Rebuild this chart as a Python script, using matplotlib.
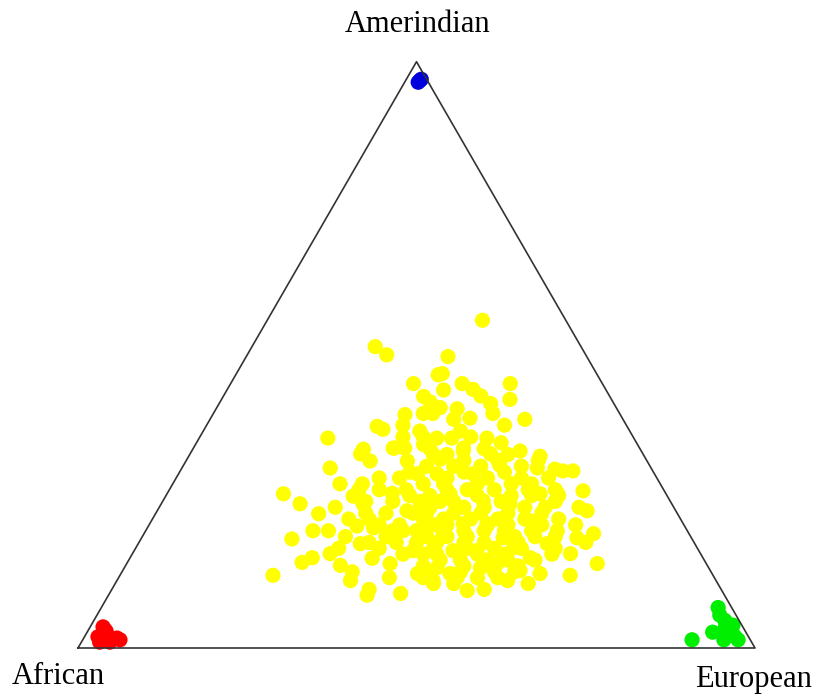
import numpy as np
import matplotlib.pyplot as plt

# ancestry proportions in percent: (amerindian, european); african = 100 - both
admixed = [
    (55.9, 31.8), (51.4, 18.2), (50.0, 20.6), (49.7, 29.8), (45.1, 27.0), (46.6, 29.9),
    (42.9, 29.6), (39.8, 28.4), (40.0, 32.4), (37.8, 25.3), (37.3, 26.4), (35.8, 19.0),
    (33.9, 25.2), (34.1, 29.7), (34.7, 33.7), (46.8, 30.4), (45.1, 34.2), (44.1, 36.3),
    (45.1, 41.3), (42.4, 42.6), (40.8, 35.6), (41.7, 40.1), (40.0, 41.3), (39.2, 38.3),
    (39.0, 46.5), (35.8, 35.1), (34.1, 39.9), (35.8, 42.5), (33.6, 48.5), (32.7, 51.9),
    (33.1, 44.4), (26.3, 17.2), (24.6, 20.5), (22.9, 24.1), (20.0, 24.7), (18.6, 22.3),
    (12.4, 22.6), (14.6, 25.8), (15.4, 26.9), (16.1, 29.2), (14.1, 31.7), (11.5, 34.5),
    (9.0, 38.2), (15.3, 35.8), (14.4, 38.9), (9.3, 43.0), (17.8, 32.8), (20.8, 30.8),
    (20.5, 33.4), (20.0, 36.5), (26.4, 33.2), (30.7, 21.9), (28.0, 24.7), (33.1, 25.2),
    (31.9, 27.2), (34.1, 29.5), (25.9, 27.7), (24.6, 29.8), (12.7, 43.8), (11.5, 46.7),
    (16.6, 41.2), (23.4, 36.9), (21.2, 41.0), (29.7, 35.3), (31.9, 32.7), (23.4, 63.5),
    (26.8, 61.2), (19.5, 66.4), (14.4, 69.5), (12.4, 66.5), (9.8, 52.6), (11.5, 57.7),
    (14.4, 54.7), (15.4, 59.1), (26.3, 57.7), (26.3, 55.1), (30.7, 52.5), (30.2, 56.5),
    (33.6, 40.1), (29.7, 38.2), (29.7, 43.5), (26.3, 41.8), (25.1, 47.3), (24.6, 51.5),
    (21.7, 56.0), (20.0, 60.8), (18.8, 64.3), (19.5, 44.2), (21.2, 46.3), (21.2, 49.8),
    (18.8, 53.4), (16.6, 47.1), (16.6, 50.6), (13.7, 46.2), (12.7, 48.6), (13.7, 52.6),
    (17.1, 55.8), (17.8, 60.4), (16.1, 64.7), (12.7, 61.9), (13.2, 58.7), (35.8, 37.3),
    (34.1, 31.2), (32.2, 37.4), (31.2, 46.7), (30.5, 55.2), (30.2, 58.0),
    (27, 44), (27, 48), (26, 51), (25, 38), (25, 43), (24, 45), (24, 54), (23, 40),
    (23, 48), (23, 57), (22, 43), (22, 51), (22, 60), (21, 37), (21, 44), (21, 53),
    (20, 40), (20, 47), (20, 50), (20, 57), (19, 42), (19, 45), (19, 55), (19, 61),
    (18, 38), (18, 48), (18, 51), (17, 44), (17, 53), (17, 57), (16, 40), (16, 45),
    (16, 62), (15, 49), (15, 53), (15, 56), (14, 44), (14, 58), (13, 50), (13, 55),
    (12, 45), (12, 53), (11, 50), (11, 61), (28, 40), (28, 50), (29, 46), (27, 53),
    (26, 58), (24, 62), (21, 63), (18, 66), (23, 34), (22, 32), (19, 30), (17, 36),
    (26, 36), (29, 30), (31, 40), (32, 46), (31, 50), (34, 43), (33, 36), (36, 40),
    (37, 32), (38, 44), (36, 30), (41, 33), (43, 38), (42, 31), (28, 28), (27, 31),
    (24, 26), (22, 29), (20, 27), (17, 30), (18, 34), (13, 34), (12, 40), (10, 38),
    (33, 38), (33, 47), (32, 41), (32, 52), (31, 44), (31, 36), (30, 48), (30, 42),
    (30, 34), (29, 51), (29, 40), (29, 55), (28, 45), (28, 37), (28, 53), (27, 41),
    (27, 57), (27, 35), (26, 46), (26, 39), (26, 54), (25, 50), (25, 41), (25, 58),
    (25, 34), (24, 48), (24, 40), (24, 57), (23, 44), (23, 52), (23, 38), (22, 47),
    (22, 55), (22, 40), (21, 50), (21, 42), (21, 58), (20, 44), (20, 53), (20, 38),
    (19, 48), (19, 58), (18, 44), (18, 56), (18, 41), (17, 49), (17, 62), (16, 51),
    (16, 55), (16, 43), (15, 46), (15, 60), (14, 50), (14, 54), (13, 45), (13, 58),
    (12, 50), (12, 56), (11, 47), (10, 55), (29, 33), (27, 28), (25, 30), (23, 31),
    (21, 34), (19, 36), (34, 35), (35, 45), (37, 38), (39, 36), (38, 29), (40, 31),
    (44, 32), (36, 33),
]
african = [(3.6, 1.9), (1.9, 2.0), (2.0, 3.4), (1.7, 4.9), (1.4, 5.5), (1.0, 2.7),
           (1.0, 4.2), (2.9, 2.7), (3.2, 2.3)]
european = [(1.4, 90.0), (2.7, 92.4), (6.9, 91.1), (4.7, 93.2), (2.7, 95.0), (1.4, 96.8),
            (1.4, 94.7), (3.9, 94.8), (5.6, 92.0), (3.3, 93.9), (2.0, 96.0)]
amerindian = [(96.8, 2.1), (96.5, 2.0), (97.0, 2.2)]

groups = [(admixed, "#ffff00"), (african, "#ff0000"), (european, "#00ee00"),
          (amerindian, "#0000dd")]

H = np.sqrt(3) / 2


def to_xy(pts):
    a = np.array(pts, dtype=float) / 100.0
    am, eu = a[:, 0], a[:, 1]
    return eu + am / 2, am * H


fig = plt.figure(figsize=(8.2, 6.98), dpi=100)
ax = fig.add_axes([78 / 820, 50 / 698, 677 / 820, 590 / 698])
ax.set_xlim(0, 1)
ax.set_ylim(0, 590 / 677)
ax.axis("off")

corners = [(0, 0), (0, 100), (100, 0), (0, 0)]
tx, ty = to_xy(corners)
ax.plot(tx, ty, color="#333333", lw=1.2, clip_on=False, zorder=3)

for pts, col in groups:
    x, y = to_xy(pts)
    ax.scatter(x, y, s=120, c=col, edgecolors="none", clip_on=False, zorder=2)

font = dict(family="Liberation Serif", fontsize=22)
fig.text(418 / 820, 1 - 25 / 698, "Amerindian", ha="center", va="center", **font)
fig.text(58 / 820, 1 - 676 / 698, "African", ha="center", va="center", **font)
fig.text(754 / 820, 1 - 680 / 698, "European", ha="center", va="center", **font)

fig.savefig("out.png", dpi=100)
